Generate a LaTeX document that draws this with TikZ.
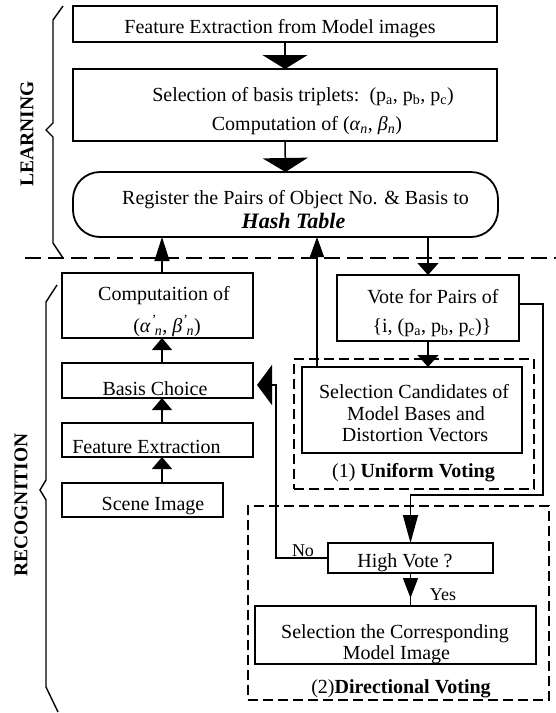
\documentclass[tikz,border=0pt]{standalone}
\usepackage{fontspec}
\setmainfont{Liberation Serif}
\usetikzlibrary{arrows.meta}
\newcommand\gksub[2]{\textit{#1}\textsubscript{\textit{#2}}}
\newcommand\gkpr[2]{\textit{#1}\textsuperscript{\textit{'}}\kern-1pt\textsubscript{\textit{#2}}}
\begin{document}
\begin{tikzpicture}[x=1pt,y=-1pt,
  box/.style={draw, line width=1.8pt, inner sep=0pt, outer sep=0pt},
  dbox/.style={draw, line width=1.2pt, dash pattern=on 10pt off 5pt, inner sep=0pt, outer sep=0pt},
  txt/.style={font=\fontsize{20}{21}\selectfont, inner sep=0pt, anchor=base},
  smalltxt/.style={font=\fontsize{18}{20}\selectfont, inner sep=0pt, anchor=base},
  sidelab/.style={font=\fontsize{19.5}{21}\selectfont\bfseries, inner sep=0pt, rotate=90},
  conn/.style={line width=1.5pt},
  brace/.style={line width=1.4pt, line join=miter},
  downbig/.style={conn, -{Triangle[width=45pt,length=14pt]}},
  upmid/.style={conn, -{Triangle[width=15pt,length=24pt]}},
  upsel/.style={conn, -{Triangle[width=14pt,length=20pt]}},
  downsm/.style={conn, -{Triangle[width=21pt,length=12pt]}},
  upsm/.style={conn, -{Triangle[width=20pt,length=12pt]}},
  leftbig/.style={conn, -{Triangle[width=40pt,length=15pt]}},
  downhv/.style={conn, -{Triangle[width=15pt,length=28pt]}},
  downyes/.style={conn, -{Triangle[width=15pt,length=20pt]}}
]
\fill[white] (0,0) rectangle (556,713);
\useasboundingbox (0,0) rectangle (556,713);

% ---------- LEARNING ----------
\node[box, minimum width=424pt, minimum height=36pt] (b1) at (285,24) {};
\node[txt] (t1) at (280,33) {Feature Extraction from Model images};

\node[box, minimum width=424pt, minimum height=72pt] (b2) at (285,105) {};
\node[txt] (t2a) at (303,101) {Selection of basis triplets:~~(p\textsubscript{a}, p\textsubscript{b}, p\textsubscript{c})};
\node[txt] (t2b) at (307,130) {Computation of (\gksub{α}{n}, \gksub{β}{n})};

\node[box, rounded corners=27pt, minimum width=425pt, minimum height=65pt] (hash) at (285.5,204.5) {};
\node[txt] (t3a) at (295.5,204) {Register the Pairs of Object No. \& Basis to};
\node[txt, font=\fontsize{22}{24}\selectfont\bfseries\itshape] (t3b) at (293.5,228) {Hash Table};

\draw[downbig] (b1.south) -- (b2.north);
\draw[downbig] (b2.south) -- (hash.north);

% separator
\coordinate (sepL) at (25,258);
\coordinate (sepR) at (556,258);
\draw[line width=1.3pt, dash pattern=on 16pt off 7pt] (sepL) -- (sepR);

% braces and side labels
\draw[brace] (63,6) -- (53,20) -- (53,123) -- (46,130) -- (53,137) -- (53,243) -- (63,258);
\node[sidelab] (learn) at (27,134) {LEARNING};
\draw[brace] (57,285) -- (46,302) -- (46,480) -- (40,490) -- (46,500) -- (46,687) -- (58,712);
\node[sidelab] (recog) at (21,505) {RECOGNITION};

% ---------- RECOGNITION, left column ----------
\coordinate (lx) at (162,0);
\node[box, minimum width=191pt, minimum height=65pt] (comp) at (157.5,305.5) {};
\node[txt] (t4a) at (164,300) {Computaition of};
\node[txt] (t4b) at (167,332) {(\gkpr{α}{n}, \gkpr{β}{n})};

\node[box, minimum width=191pt, minimum height=35pt] (basis) at (157.5,380.5) {};
\node[txt] (t5) at (155,395) {Basis Choice};

\node[box, minimum width=191pt, minimum height=34pt] (feat) at (157.5,440) {};
\node[txt] (t6) at (146.5,453) {Feature Extraction};

\node[box, minimum width=161pt, minimum height=34pt] (scene) at (142.5,500) {};
\node[txt] (t7) at (153,510) {Scene Image};

\draw[upsm] (scene.north -| lx) -- (feat.south -| lx);
\draw[upsm] (feat.north -| lx) -- (basis.south -| lx);
\draw[upsm] (basis.north -| lx) -- (comp.south -| lx);
\draw[upmid] (comp.north -| lx) -- (hash.south -| lx);

% ---------- RECOGNITION, right column ----------
\node[box, minimum width=182pt, minimum height=66pt] (vote) at (428,308) {};
\node[txt] (t8a) at (433,303) {Vote for Pairs of};
\node[txt] (t8b) at (432,332) {\{i, (p\textsubscript{a}, p\textsubscript{b}, p\textsubscript{c})\}};

\node[dbox, minimum width=240pt, minimum height=130pt] (unif) at (414,424) {};
\node[box, minimum width=220pt, minimum height=86pt] (selc) at (412,410) {};
\node[txt] (t9a) at (414,398) {Selection Candidates of};
\node[txt] (t9b) at (416,420) {Model Bases and};
\node[txt] (t9c) at (415,441) {Distortion Vectors};
\node[txt] (t10) at (413.5,477) {(1) \textbf{Uniform Voting}};

\node[dbox, minimum width=301pt, minimum height=194pt] (dir) at (398.5,603) {};
\node[box, minimum width=165pt, minimum height=30pt] (high) at (410.5,558) {};
\node[txt] (t11) at (405,567) {High Vote ?};
\node[box, minimum width=281pt, minimum height=58pt] (final) at (395.5,635) {};
\node[txt] (t12a) at (395,638) {Selection the Corresponding};
\node[txt] (t12b) at (396.5,659) {Model Image};
\node[txt] (t13) at (401,693) {(2)\textbf{Directional Voting}};

\node[smalltxt] (no) at (303,556) {No};
\node[smalltxt] (yes) at (443,600) {Yes};

% connectors
\draw[upsel] ([xshift=15pt]selc.north west) -- ([xshift=15pt]selc.north west |- hash.south);
\draw[downsm] (vote.north |- hash.south) -- (vote.north);
\draw[downsm] (vote.south) -- (vote.south |- selc.north);

\coordinate (c1) at (543,495);
\draw[downhv] ([yshift=4pt]vote.east) -| (c1) -| (high.north);

\path (high.south |- final.north) coordinate (fin);
\draw[conn] (high.south) -- (fin);
\draw[downyes] (high.south) -- ([yshift=8pt]fin);

\draw[leftbig] (high.west) -| ([xshift=23pt,yshift=-4.5pt]basis.east) -- ([xshift=4pt,yshift=-4.5pt]basis.east);
\end{tikzpicture}
\end{document}
